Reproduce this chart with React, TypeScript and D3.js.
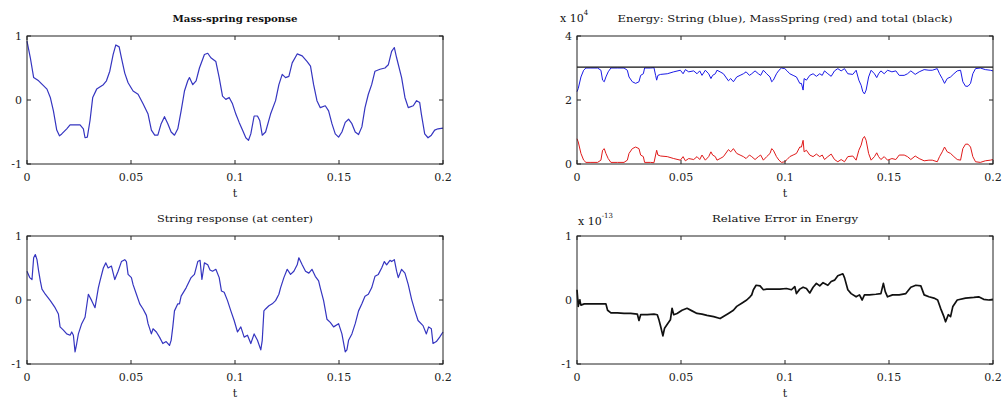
import React from 'react';
import * as d3 from 'd3';

// ---- tick values / labels ----
const xTicks = [0, 0.05, 0.1, 0.15, 0.2];
const xTickLabels = ['0', '0.05', '0.1', '0.15', '0.2'];
const responseTicks = [-1, 0, 1];
const responseTickLabels = ['-1', '0', '1'];
const energyTicks = [0, 2, 4];
const energyTickLabels = ['0', '2', '4'];

// ---- series: [time (ms), value] ----
const massSpring: [number, number][] = [
  [0, 0.92], [1.6, 0.66], [3.2, 0.35], [5.6, 0.3], [9.6, 0.17], [11.2, 0.04], [12.7, -0.17], [14.3, -0.47],
  [15.6, -0.56], [16.7, -0.53], [19.1, -0.45], [20.7, -0.39], [25.5, -0.39], [27.1, -0.45], [27.9, -0.59],
  [29.0, -0.58], [30.3, -0.32], [31.6, 0.04], [33.5, 0.17], [36.7, 0.24], [38.2, 0.3], [39.8, 0.45],
  [41.4, 0.71], [42.7, 0.86], [44.3, 0.83], [45.4, 0.66], [47.0, 0.42], [48.6, 0.27], [51.0, 0.14],
  [53.4, 0.09], [55.8, -0.06], [58.2, -0.22], [59.8, -0.47], [61.4, -0.55], [62.9, -0.55], [64.5, -0.37],
  [66.1, -0.26], [67.7, -0.37], [69.3, -0.5], [70.9, -0.55], [72.5, -0.45], [74.1, -0.17], [75.7, 0.14],
  [77.3, 0.3], [78.1, 0.35], [79.7, 0.24], [81.3, 0.3], [82.9, 0.5], [85.3, 0.71], [86.9, 0.73],
  [88.4, 0.66], [90.8, 0.6], [92.4, 0.35], [94.0, 0.06], [95.6, 0.01], [97.2, 0.04], [98.8, -0.06],
  [100.4, -0.22], [102.0, -0.35], [103.6, -0.47], [105.2, -0.59], [106.5, -0.63], [107.6, -0.53],
  [109.2, -0.25], [110.8, -0.25], [111.9, -0.32], [113.1, -0.55], [114.7, -0.5], [117.1, -0.22],
  [119.5, -0.01], [121.1, 0.24], [122.7, 0.4], [124.3, 0.35], [125.9, 0.37], [127.5, 0.58], [129.9, 0.72],
  [132.3, 0.69], [134.7, 0.6], [136.3, 0.53], [137.8, 0.24], [139.4, -0.01], [141.0, -0.12], [143.4, -0.09],
  [145.0, -0.17], [146.6, -0.37], [148.2, -0.53], [149.8, -0.58], [151.4, -0.5], [153.0, -0.35],
  [154.6, -0.3], [156.2, -0.37], [157.8, -0.5], [159.4, -0.54], [161.0, -0.42], [162.5, -0.12],
  [164.1, 0.09], [165.7, 0.24], [167.3, 0.45], [169.7, 0.48], [172.1, 0.5], [173.7, 0.55], [175.3, 0.76],
  [176.6, 0.82], [177.7, 0.66], [180.1, 0.35], [181.7, 0.04], [183.3, -0.12], [185.7, -0.09],
  [187.3, -0.01], [188.8, -0.04], [189.6, -0.22], [191.2, -0.53], [192.8, -0.59], [194.4, -0.55],
  [196.0, -0.47], [197.6, -0.45], [200, -0.44],
];

const stringCenter: [number, number][] = [
  [0, 0.45], [1.3, 0.35], [2.4, 0.32], [3.2, 0.66], [4.0, 0.71], [4.8, 0.63], [5.6, 0.45], [6.4, 0.3],
  [7.2, 0.17], [8.8, 0.09], [11.2, -0.01], [13.5, -0.12], [15.1, -0.22], [15.9, -0.42], [17.5, -0.47],
  [19.1, -0.53], [20.7, -0.55], [21.5, -0.5], [22.3, -0.55], [23.1, -0.81], [23.9, -0.68], [24.7, -0.53],
  [26.3, -0.37], [27.9, -0.27], [29.5, 0.09], [31.1, -0.01], [32.7, -0.12], [34.3, 0.19], [35.1, 0.3],
  [36.7, 0.5], [37.9, 0.58], [39.0, 0.5], [40.6, 0.53], [42.2, 0.32], [43.8, 0.45], [45.4, 0.6],
  [47.0, 0.63], [47.8, 0.6], [48.6, 0.4], [50.2, 0.35], [51.0, 0.24], [52.6, 0.09], [54.2, -0.06],
  [55.8, -0.14], [57.4, -0.24], [58.2, -0.37], [59.8, -0.53], [60.6, -0.45], [62.2, -0.5], [63.7, -0.58],
  [65.3, -0.68], [66.9, -0.65], [68.5, -0.71], [69.3, -0.63], [70.1, -0.42], [70.9, -0.17], [72.5, -0.06],
  [73.3, -0.06], [74.1, 0.06], [76.5, 0.19], [78.9, 0.35], [80.5, 0.4], [82.1, 0.6], [83.2, 0.62],
  [84.1, 0.32], [85.3, 0.58], [86.9, 0.55], [88.0, 0.47], [89.2, 0.45], [90.8, 0.48], [92.4, 0.35],
  [93.5, 0.14], [94.8, 0.12], [96.4, -0.01], [98.0, -0.17], [99.6, -0.32], [101.2, -0.5], [102.8, -0.42],
  [104.4, -0.58], [106.0, -0.55], [107.6, -0.68], [109.2, -0.53], [110.8, -0.63], [112.4, -0.78],
  [113.1, -0.63], [113.9, -0.17], [114.7, -0.14], [116.3, -0.09], [117.9, -0.06], [119.5, -0.01],
  [121.1, 0.09], [121.9, 0.19], [123.5, 0.35], [125.1, 0.48], [126.7, 0.4], [128.3, 0.45], [129.9, 0.55],
  [130.7, 0.66], [132.3, 0.55], [133.9, 0.45], [135.5, 0.42], [137.0, 0.48], [138.6, 0.37], [140.2, 0.3],
  [141.0, 0.19], [142.6, -0.01], [144.2, -0.3], [145.8, -0.35], [147.4, -0.42], [149.8, -0.37],
  [151.4, -0.53], [153.0, -0.81], [153.8, -0.78], [154.6, -0.63], [156.2, -0.53], [157.8, -0.37],
  [159.4, -0.17], [161.0, -0.06], [162.5, 0.06], [164.1, 0.09], [165.7, 0.19], [167.3, 0.37], [168.9, 0.4],
  [170.5, 0.5], [171.8, 0.6], [172.9, 0.55], [174.5, 0.62], [175.3, 0.6], [176.6, 0.63], [177.7, 0.45],
  [178.5, 0.35], [180.1, 0.48], [181.7, 0.42], [183.3, 0.24], [184.9, 0.01], [186.5, -0.17], [188.0, -0.32],
  [190.4, -0.4], [192.0, -0.53], [193.1, -0.42], [194.4, -0.45], [195.2, -0.68], [196.8, -0.65],
  [198.4, -0.58], [200, -0.5],
];

// energies in units of 1e4
const massSpringEnergy: [number, number][] = [
  [0, 0.79], [0.6, 0.69], [1.9, 0.33], [3.2, 0.12], [4.3, 0.05], [6.7, 0.05], [9.9, 0.05], [11.5, 0.12],
  [12.3, 0.43], [13.1, 0.48], [13.9, 0.33], [15.0, 0.17], [16.3, 0.05], [19.4, 0.05], [22.6, 0.05],
  [24.2, 0.12], [25.0, 0.33], [26.6, 0.48], [28.2, 0.53], [29.8, 0.48], [30.6, 0.28], [31.9, 0.23],
  [32.5, 0.05], [35.4, 0.05], [37.0, 0.04], [37.8, 0.28], [38.3, 0.43], [38.9, 0.28], [40.2, 0.25],
  [43.4, 0.23], [46.5, 0.17], [49.7, 0.12], [51.0, 0.23], [52.1, 0.1], [53.7, 0.17], [56.1, 0.14],
  [57.7, 0.23], [59.0, 0.14], [60.1, 0.28], [61.7, 0.12], [63.3, 0.23], [64.4, 0.38], [65.2, 0.28],
  [66.5, 0.23], [67.3, 0.12], [68.8, 0.17], [70.4, 0.23], [72.8, 0.45], [73.9, 0.38], [75.2, 0.48],
  [76.8, 0.33], [78.4, 0.28], [80.0, 0.23], [81.3, 0.17], [82.9, 0.28], [84.0, 0.23], [85.6, 0.14],
  [87.2, 0.23], [88.3, 0.28], [89.6, 0.12], [91.2, 0.23], [92.8, 0.33], [93.6, 0.48], [94.4, 0.43],
  [95.9, 0.23], [97.1, 0.12], [98.3, 0.05], [99.9, 0.07], [101.0, 0.14], [102.3, 0.23], [103.9, 0.28],
  [105.5, 0.33], [107.1, 0.53], [107.9, 0.53], [108.7, 0.74], [109.2, 0.38], [110.3, 0.43], [111.9, 0.28],
  [113.5, 0.23], [115.1, 0.31], [116.7, 0.23], [117.9, 0.28], [119.0, 0.14], [120.6, 0.23], [122.2, 0.31],
  [123.8, 0.14], [125.4, 0.07], [127.0, 0.14], [128.6, 0.07], [130.2, 0.23], [132.6, 0.25], [134.2, 0.12],
  [135.5, 0.43], [136.6, 0.59], [137.4, 0.79], [138.2, 0.86], [139.0, 0.74], [140.2, 0.33], [141.4, 0.12],
  [143.0, 0.23], [144.1, 0.35], [145.0, 0.23], [146.1, 0.14], [147.7, 0.23], [149.3, 0.12], [151.4, 0.17],
  [153.3, 0.14], [154.9, 0.28], [157.3, 0.28], [158.9, 0.23], [160.5, 0.14], [162.6, 0.25], [164.5, 0.17],
  [166.9, 0.1], [169.2, 0.12], [170.8, 0.12], [173.2, 0.07], [174.3, 0.23], [175.6, 0.38], [176.7, 0.53],
  [178.0, 0.38], [179.6, 0.33], [181.2, 0.23], [182.8, 0.14], [184.4, 0.12], [185.5, 0.48], [186.8, 0.62],
  [188.0, 0.62], [189.2, 0.53], [190.3, 0.23], [191.6, 0.07], [193.9, 0.05], [196.3, 0.1], [198.7, 0.12],
  [200, 0.14],
];

const stringEnergy: [number, number][] = [
  [0, 2.26], [0.6, 2.36], [1.9, 2.72], [3.2, 2.93], [4.3, 3.0], [6.7, 3.0], [9.9, 3.0], [11.5, 2.93],
  [12.3, 2.62], [13.1, 2.57], [13.9, 2.72], [15.0, 2.88], [16.3, 3.0], [19.4, 3.0], [22.6, 3.0],
  [24.2, 2.93], [25.0, 2.72], [26.6, 2.57], [28.2, 2.52], [29.8, 2.57], [30.6, 2.77], [31.9, 2.82],
  [32.5, 3.0], [35.4, 3.0], [37.0, 3.01], [37.8, 2.77], [38.3, 2.62], [38.9, 2.77], [40.2, 2.8],
  [43.4, 2.82], [46.5, 2.88], [49.7, 2.93], [51.0, 2.82], [52.1, 2.95], [53.7, 2.88], [56.1, 2.91],
  [57.7, 2.82], [59.0, 2.91], [60.1, 2.77], [61.7, 2.93], [63.3, 2.82], [64.4, 2.67], [65.2, 2.77],
  [66.5, 2.82], [67.3, 2.93], [68.8, 2.88], [70.4, 2.82], [72.8, 2.6], [73.9, 2.67], [75.2, 2.57],
  [76.8, 2.72], [78.4, 2.77], [80.0, 2.82], [81.3, 2.88], [82.9, 2.77], [84.0, 2.82], [85.6, 2.91],
  [87.2, 2.82], [88.3, 2.77], [89.6, 2.93], [91.2, 2.82], [92.8, 2.72], [93.6, 2.57], [94.4, 2.62],
  [95.9, 2.82], [97.1, 2.93], [98.3, 3.0], [99.9, 2.98], [101.0, 2.91], [102.3, 2.82], [103.9, 2.77],
  [105.5, 2.72], [107.1, 2.52], [107.9, 2.52], [108.7, 2.31], [109.2, 2.67], [110.3, 2.62], [111.9, 2.77],
  [113.5, 2.82], [115.1, 2.74], [116.7, 2.82], [117.9, 2.77], [119.0, 2.91], [120.6, 2.82], [122.2, 2.74],
  [123.8, 2.91], [125.4, 2.98], [127.0, 2.91], [128.6, 2.98], [130.2, 2.82], [132.6, 2.8], [134.2, 2.93],
  [135.5, 2.62], [136.6, 2.46], [137.4, 2.26], [138.2, 2.19], [139.0, 2.31], [140.2, 2.72], [141.4, 2.93],
  [143.0, 2.82], [144.1, 2.7], [145.0, 2.82], [146.1, 2.91], [147.7, 2.82], [149.3, 2.93], [151.4, 2.88],
  [153.3, 2.91], [154.9, 2.77], [157.3, 2.77], [158.9, 2.82], [160.5, 2.91], [162.6, 2.8], [164.5, 2.88],
  [166.9, 2.95], [169.2, 2.93], [170.8, 2.93], [173.2, 2.98], [174.3, 2.82], [175.6, 2.67], [176.7, 2.52],
  [178.0, 2.67], [179.6, 2.72], [181.2, 2.82], [182.8, 2.91], [184.4, 2.93], [185.5, 2.57], [186.8, 2.43],
  [188.0, 2.43], [189.2, 2.52], [190.3, 2.82], [191.6, 2.98], [193.9, 3.0], [196.3, 2.95], [198.7, 2.93],
  [200, 2.91],
];

const totalEnergy: [number, number][] = [[0, 3.03], [50, 3.03], [100, 3.03], [150, 3.03], [200, 3.03]];

// relative error in units of 1e-13
const relativeError: [number, number][] = [
  [0, 0.16], [0.6, -0.1], [1.3, 0.0], [1.9, -0.08], [3.5, -0.06], [6.7, -0.06], [11.5, -0.06], [13.9, -0.06],
  [14.7, -0.16], [16.3, -0.2], [19.4, -0.2], [22.6, -0.21], [25.8, -0.21], [29.0, -0.22], [29.8, -0.32],
  [30.6, -0.23], [33.8, -0.23], [37.0, -0.22], [38.6, -0.23], [39.4, -0.31], [40.2, -0.41], [41.3, -0.56],
  [42.1, -0.44], [43.4, -0.38], [44.9, -0.31], [45.7, -0.13], [46.5, -0.23], [48.1, -0.21], [50.5, -0.16],
  [52.9, -0.13], [55.3, -0.17], [57.7, -0.21], [60.1, -0.22], [62.5, -0.24], [65.7, -0.26], [68.8, -0.29],
  [70.8, -0.25], [72.8, -0.21], [75.2, -0.16], [76.8, -0.1], [79.2, -0.05], [81.6, 0.0], [83.2, 0.05],
  [84.0, 0.08], [84.8, 0.16], [86.1, 0.23], [88.0, 0.22], [89.6, 0.16], [91.2, 0.17], [94.3, 0.17],
  [97.5, 0.17], [100.7, 0.18], [103.1, 0.16], [104.7, 0.21], [105.5, 0.1], [107.1, 0.17], [108.7, 0.2],
  [110.3, 0.18], [111.9, 0.11], [113.5, 0.2], [115.1, 0.26], [116.7, 0.22], [118.3, 0.27], [120.6, 0.23],
  [122.2, 0.29], [123.8, 0.31], [125.4, 0.38], [127.8, 0.41], [128.6, 0.35], [130.2, 0.16], [131.8, 0.1],
  [134.2, 0.05], [135.8, 0.08], [137.1, 0.0], [138.2, 0.08], [140.6, 0.08], [143.7, 0.09], [146.1, 0.1],
  [147.3, 0.26], [148.2, 0.13], [149.3, 0.05], [151.7, 0.08], [154.9, 0.08], [158.1, 0.1], [160.5, 0.2],
  [162.9, 0.23], [165.3, 0.22], [166.9, 0.08], [169.2, 0.05], [171.6, 0.03], [173.4, 0.0], [174.8, -0.13],
  [176.4, -0.26], [177.2, -0.34], [178.5, -0.23], [179.6, -0.26], [180.7, -0.1], [182.8, 0.0],
  [186.8, 0.03], [190.8, 0.04], [193.1, 0.05], [195.5, 0.01], [197.9, 0.0], [200, 0.01],
];

const FONT = '"DejaVu Serif", "Liberation Serif", serif';

type Series = { data: [number, number][]; color: string; width: number };

type PanelProps = {
  left: number; top: number; width: number; height: number;
  yDomain: [number, number]; yTicks: number[]; yTickLabels: string[];
  series: Series[];
  title: string; titleX: number; titleLen: number; titleBold?: boolean;
  exponent?: { base: string; exp: string; x: number; y: number };
};

function Panel(p: PanelProps) {
  const xs = d3.scaleLinear().domain([0, 0.2]).range([p.left, p.left + p.width]);
  const ys = d3.scaleLinear().domain(p.yDomain).range([p.top + p.height, p.top]);
  const line = d3.line<[number, number]>().x((d) => xs(d[0] / 1000)).y((d) => ys(d[1]));
  const bottom = p.top + p.height;
  const right = p.left + p.width;
  const tl = 4;
  return (
    <g>
      {p.series.map((s, i) => (
        <path key={i} d={line(s.data) || ''} fill="none" stroke={s.color} strokeWidth={s.width} strokeLinejoin="round" />
      ))}
      <rect x={p.left} y={p.top} width={p.width} height={p.height} fill="none" stroke="#222" strokeWidth={1} />
      {xTicks.map((t, i) => (
        <g key={'x' + i}>
          <line x1={xs(t)} x2={xs(t)} y1={bottom} y2={bottom - tl} stroke="#222" />
          <line x1={xs(t)} x2={xs(t)} y1={p.top} y2={p.top + tl} stroke="#222" />
          <text x={xs(t)} y={bottom + 17} fontSize={11} fontFamily={FONT} textAnchor="middle" fill="#222">{xTickLabels[i]}</text>
        </g>
      ))}
      {p.yTicks.map((t, i) => (
        <g key={'y' + i}>
          <line x1={p.left} x2={p.left + tl} y1={ys(t)} y2={ys(t)} stroke="#222" />
          <line x1={right} x2={right - tl} y1={ys(t)} y2={ys(t)} stroke="#222" />
          <text x={p.left - 5} y={ys(t) + 4} fontSize={11} fontFamily={FONT} textAnchor="end" fill="#222">{p.yTickLabels[i]}</text>
        </g>
      ))}
      <text x={xs(0.1)} y={bottom + 33} fontSize={11} fontFamily={FONT} textAnchor="middle" fill="#222">t</text>
      <text x={p.titleX} y={p.top - 14} fontSize={10} fontFamily={FONT} textAnchor="middle" fill="#111"
        fontWeight={p.titleBold ? 'bold' : 'normal'} textLength={p.titleLen} lengthAdjust="spacingAndGlyphs">{p.title}</text>
      {p.exponent && (
        <text x={p.exponent.x} y={p.exponent.y} fontSize={11} fontFamily={FONT} fill="#111">
          {p.exponent.base}
          <tspan dy={-7} fontSize={7}>{p.exponent.exp}</tspan>
        </text>
      )}
    </g>
  );
}

export default function App() {
  return (
    <svg width={1003} height={400} style={{ position: 'absolute', left: 0, top: 0, background: '#fff' }}>
      <rect width={1003} height={400} fill="#fff" />
      <Panel left={27} top={36} width={416} height={128} yDomain={[-1, 1]} yTicks={responseTicks} yTickLabels={responseTickLabels}
        series={[{ data: massSpring, color: '#3535c0', width: 1.2 }]}
        title="Mass-spring response" titleX={235} titleLen={125} titleBold />
      <Panel left={27} top={236} width={416} height={128} yDomain={[-1, 1]} yTicks={responseTicks} yTickLabels={responseTickLabels}
        series={[{ data: stringCenter, color: '#3535c0', width: 1.2 }]}
        title="String response (at center)" titleX={235} titleLen={156} />
      <Panel left={577} top={36} width={416} height={128} yDomain={[0, 4]} yTicks={energyTicks} yTickLabels={energyTickLabels}
        series={[
          { data: stringEnergy, color: '#1a1ae6', width: 1 },
          { data: massSpringEnergy, color: '#e01a1a', width: 1 },
          { data: totalEnergy, color: '#111', width: 1.2 },
        ]}
        title="Energy: String (blue), MassSpring (red) and total (black)" titleX={785} titleLen={335}
        exponent={{ base: 'x 10', exp: '4', x: 560, y: 22 }} />
      <Panel left={577} top={236} width={416} height={128} yDomain={[-1, 1]} yTicks={responseTicks} yTickLabels={responseTickLabels}
        series={[{ data: relativeError, color: '#111', width: 1.7 }]}
        title="Relative Error in Energy" titleX={785} titleLen={146}
        exponent={{ base: 'x 10', exp: '-13', x: 578, y: 225 }} />
    </svg>
  );
}
